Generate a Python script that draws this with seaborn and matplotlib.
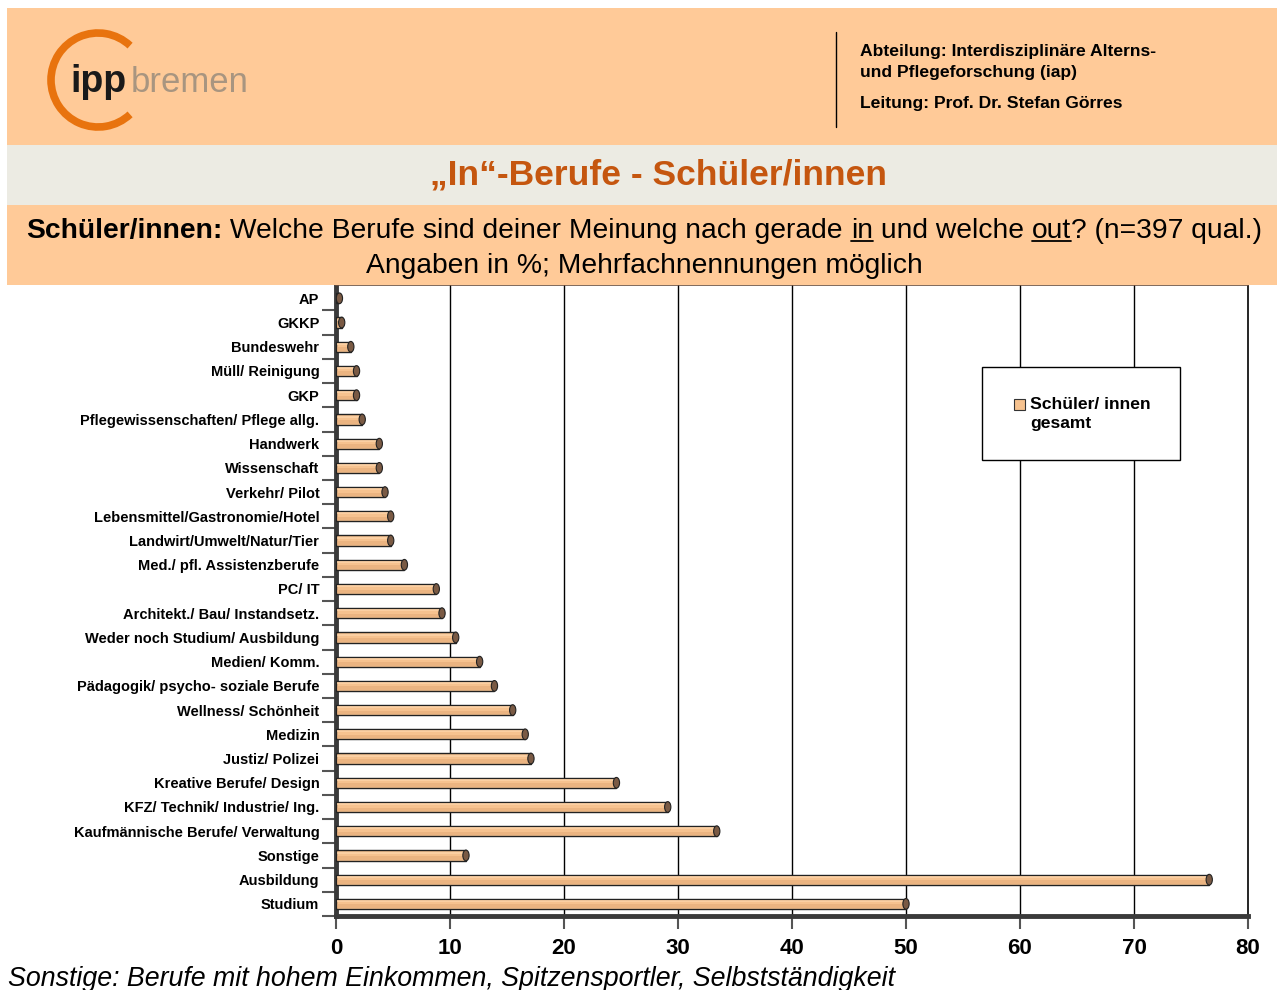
import numpy as np
import pandas as pd
import matplotlib
matplotlib.use("Agg")
import matplotlib.pyplot as plt
from matplotlib.patches import Rectangle, Ellipse, Arc
from matplotlib.lines import Line2D
import seaborn as sns

# Daten
berufe = [
    "AP", "GKKP", "Bundeswehr", "Müll/ Reinigung", "GKP",
    "Pflegewissenschaften/ Pflege allg.", "Handwerk", "Wissenschaft",
    "Verkehr/ Pilot", "Lebensmittel/Gastronomie/Hotel",
    "Landwirt/Umwelt/Natur/Tier", "Med./ pfl. Assistenzberufe", "PC/ IT",
    "Architekt./ Bau/ Instandsetz.", "Weder noch Studium/ Ausbildung",
    "Medien/ Komm.", "Pädagogik/ psycho- soziale Berufe",
    "Wellness/ Schönheit", "Medizin", "Justiz/ Polizei",
    "Kreative Berufe/ Design", "KFZ/ Technik/ Industrie/ Ing.",
    "Kaufmännische Berufe/ Verwaltung", "Sonstige", "Ausbildung", "Studium",
]
werte = [
    0.3, 0.5, 1.3, 1.8, 1.8,
    2.3, 3.8, 3.8,
    4.3, 4.8,
    4.8, 6.0, 8.8,
    9.3, 10.5,
    12.6, 13.9,
    15.5, 16.6, 17.1,
    24.6, 29.1,
    33.4, 11.4, 76.6, 50.0,
]
x_ticks = [0, 10, 20, 30, 40, 50, 60, 70, 80]
serie = ["Schüler/ innen", "gesamt"]

titel = "\u201eIn\u201c-Berufe - Schüler/innen"
fusszeile = "Sonstige: Berufe mit hohem Einkommen, Spitzensportler, Selbstständigkeit"

ORANGE_BG = "#FFCA98"
GRAU_BG = "#ECEBE3"
BALKEN = "#F6C28F"
TITEL_FARBE = "#C5560F"

W, H = 1277, 990
sns.set_theme(style="white")
plt.rcParams["font.family"] = ["Liberation Sans", "DejaVu Sans"]
plt.rcParams["text.color"] = "black"
plt.rcParams["xtick.color"] = "black"
plt.rcParams["ytick.color"] = "black"

fig = plt.figure(figsize=(W / 100, H / 100), dpi=100)


def fx(x):
    return x / W


def fy(y):
    return 1 - y / H


# Kopfbereich
fig.patches.append(Rectangle((fx(7), fy(145)), fx(W - 7), 137 / H, transform=fig.transFigure,
                             facecolor=ORANGE_BG, edgecolor="none", zorder=0))
fig.patches.append(Rectangle((fx(7), fy(205)), fx(W - 7), 60 / H, transform=fig.transFigure,
                             facecolor=GRAU_BG, edgecolor="none", zorder=0))
fig.patches.append(Rectangle((fx(7), fy(285)), fx(W - 7), 80 / H, transform=fig.transFigure,
                             facecolor=ORANGE_BG, edgecolor="none", zorder=0))
fig.add_artist(Line2D([fx(836), fx(836)], [fy(32), fy(127)], transform=fig.transFigure,
                      color="black", lw=1))

# Logo
ax_logo = fig.add_axes([0, fy(150), fx(320), 150 / H])
ax_logo.set_zorder(2)
ax_logo.set_xlim(0, 320)
ax_logo.set_ylim(150, 0)
ax_logo.axis("off")
ax_logo.add_patch(Arc((98, 80), 94, 94, theta1=47, theta2=313, color="#E8730E", lw=5.5))
ax_logo.text(70, 92, "ipp", fontsize=27, fontweight="bold", color="#1a1a1a", va="baseline")
ax_logo.text(131, 92, "bremen", fontsize=25, color="#A89580", va="baseline")

# rechte Kopfzeilen
for txt, y in [("Abteilung: Interdisziplinäre Alterns-", 56),
               ("und Pflegeforschung (iap)", 77),
               ("Leitung: Prof. Dr. Stefan Görres", 108)]:
    fig.text(fx(860), fy(y), txt, fontsize=12.6, fontweight="bold", va="baseline")

fig.text(fx(658), fy(175), titel, fontsize=25.5, fontweight="bold", color=TITEL_FARBE,
         ha="center", va="center")

# Frage-Zeile mit unterstrichenen Wörtern
renderer = fig.canvas.get_renderer()
teile = [
    ("Schüler/innen:", "bold", False),
    (" Welche Berufe sind deiner Meinung nach gerade ", "normal", False),
    ("in", "normal", True),
    (" und welche ", "normal", False),
    ("out", "normal", True),
    ("? (n=397 qual.)", "normal", False),
]
x_pos = 26
basis = 238
for txt, gewicht, unterstrichen in teile:
    t = fig.text(fx(x_pos), fy(basis), txt, fontsize=20.3, fontweight=gewicht, va="baseline")
    bb = t.get_window_extent(renderer)
    if unterstrichen:
        fig.add_artist(Line2D([fx(x_pos), fx(x_pos + bb.width)], [fy(basis + 3), fy(basis + 3)],
                              transform=fig.transFigure, color="black", lw=1.3))
    x_pos += bb.width
fig.text(fx(644), fy(273), "Angaben in %; Mehrfachnennungen möglich", fontsize=20.3,
         ha="center", va="baseline")

# Diagramm
ax = fig.add_axes([fx(336), fy(916), fx(1248 - 336), (916 - 285) / H])
df = pd.DataFrame({"beruf": berufe, "wert": werte})
bar_h = 0.42
sns.barplot(data=df, x="wert", y="beruf", orient="h", color=BALKEN, saturation=1,
            width=bar_h, edgecolor="#222222", linewidth=1.0, ax=ax, zorder=3)

for p in list(ax.patches):
    x_end = p.get_x() + p.get_width()
    y0 = p.get_y()
    h = p.get_height()
    # Schattierung
    ax.add_patch(Rectangle((0.05, y0 + h * 0.55), max(x_end - 0.1, 0), h * 0.35,
                           facecolor="#E2A977", edgecolor="none", alpha=0.55, zorder=3.5))
    ax.add_patch(Rectangle((0.05, y0 + h * 0.12), max(x_end - 0.1, 0), h * 0.2,
                           facecolor="#FFD9B0", edgecolor="none", alpha=0.6, zorder=3.5))
    ax.add_patch(Ellipse((x_end, y0 + h / 2), 0.55, h * 1.05, facecolor="#7A5A44",
                         edgecolor="#222222", lw=0.8, zorder=4))

ax.set_xlim(0, 80)
ax.set_ylim(len(berufe) - 0.5, -0.55)
ax.set_xticks(x_ticks)
ax.set_xlabel("")
ax.set_ylabel("")
for gx in x_ticks[1:-1]:
    ax.axvline(gx, color="black", lw=1, zorder=1)

for s in ["top", "right"]:
    ax.spines[s].set_color("black")
    ax.spines[s].set_linewidth(1.2)
for s in ["left", "bottom"]:
    ax.spines[s].set_color("#3a3a3a")
    ax.spines[s].set_linewidth(3.5)
ax.spines["top"].set_color("#6b5040")

ax.tick_params(axis="x", which="major", direction="out", length=9, width=1.5, color="#555555",
               labelsize=16, pad=7, bottom=True)
for lab in ax.get_xticklabels():
    lab.set_fontweight("bold")
ax.set_yticks(np.arange(len(berufe)) + 0.5, minor=True)
ax.tick_params(axis="y", which="major", length=0, labelsize=10.5, pad=12)
ax.tick_params(axis="y", which="minor", direction="out", length=10, width=1.5,
               color="#555555", left=True)
for lab in ax.get_yticklabels():
    lab.set_fontweight("bold")

# Legende
fig.patches.append(Rectangle((fx(982), fy(460)), fx(198), 93 / H, transform=fig.transFigure,
                             facecolor="white", edgecolor="black", lw=1, zorder=5))
fig.patches.append(Rectangle((fx(1014), fy(410)), fx(11), 11 / H, transform=fig.transFigure,
                             facecolor=BALKEN, edgecolor="#333333", lw=0.8, zorder=6))
fig.text(fx(1030), fy(409), serie[0], fontsize=12.6, fontweight="bold", va="baseline", zorder=6)
fig.text(fx(1030), fy(428), serie[1], fontsize=12.6, fontweight="bold", va="baseline", zorder=6)

fig.text(fx(8), fy(986), fusszeile, fontsize=19.3, style="italic", va="baseline")

fig.savefig("out.png", dpi=100)
